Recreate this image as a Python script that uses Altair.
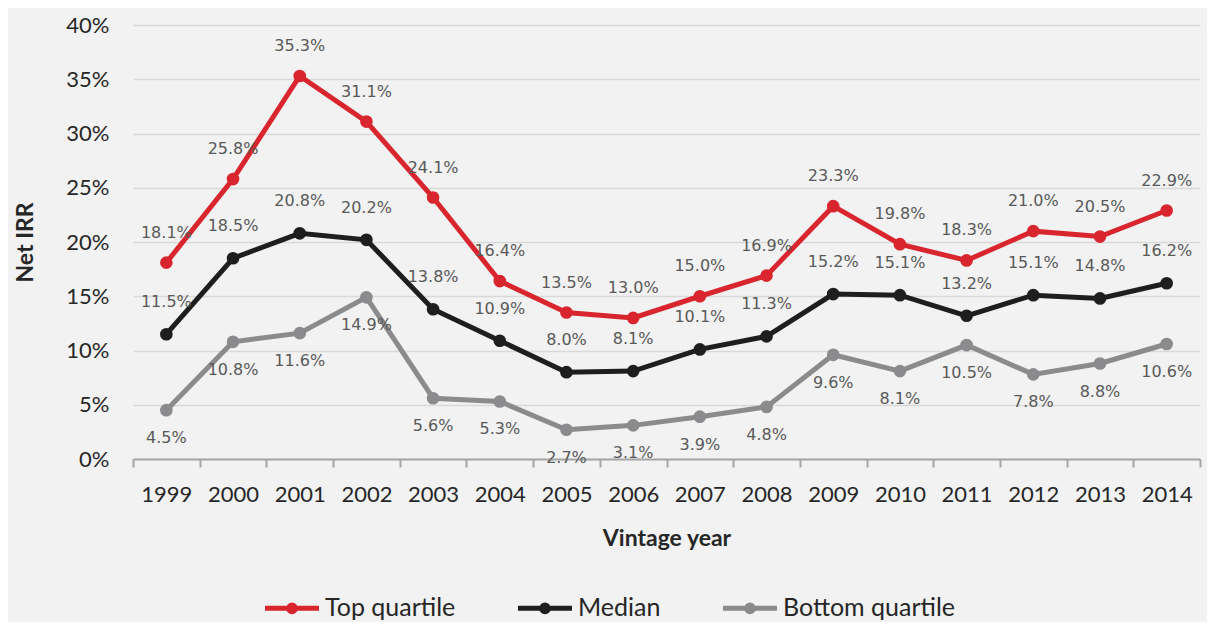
import altair as alt
import pandas as pd

years = [str(y) for y in range(1999, 2015)]
top_quartile = [18.1, 25.8, 35.3, 31.1, 24.1, 16.4, 13.5, 13.0, 15.0, 16.9, 23.3, 19.8, 18.3, 21.0, 20.5, 22.9]
median = [11.5, 18.5, 20.8, 20.2, 13.8, 10.9, 8.0, 8.1, 10.1, 11.3, 15.2, 15.1, 13.2, 15.1, 14.8, 16.2]
bottom_quartile = [4.5, 10.8, 11.6, 14.9, 5.6, 5.3, 2.7, 3.1, 3.9, 4.8, 9.6, 8.1, 10.5, 7.8, 8.8, 10.6]
series_names = ["Top quartile", "Median", "Bottom quartile"]
series_colors = ["#d9262e", "#1e1e1e", "#8b8b8e"]
y_ticks = [0, 0.05, 0.10, 0.15, 0.20, 0.25, 0.30, 0.35, 0.40]

rows = []
for name, vals in zip(series_names, [top_quartile, median, bottom_quartile]):
    for yr, v in zip(years, vals):
        rows.append({"year": yr, "series": name, "value": v / 100})
df = pd.DataFrame(rows)

AX_FONT = "Lato"
LBL_FONT = "DejaVu Sans"

x_enc = alt.X(
    "year:O",
    title="Vintage year",
    bandPosition=0.5,
    scale=alt.Scale(type="band", paddingInner=0, paddingOuter=0),
    axis=alt.Axis(
        tickBand="extent", labelAngle=0, grid=False,
        domainColor="#a6a6a6", domainWidth=2, tickColor="#a6a6a6", tickWidth=2,
        tickSize=8, labelPadding=17, labelFontSize=22, labelFont=AX_FONT,
        labelColor="#262626", titleFont=AX_FONT, titleFontSize=23,
        titleFontWeight="bold", titleColor="#262626", titlePadding=22,
    ),
)
y_enc = alt.Y(
    "value:Q",
    title="Net IRR",
    scale=alt.Scale(domain=[0, 0.4], nice=False),
    axis=alt.Axis(
        values=y_ticks, format=".0%", domain=False, ticks=False,
        gridColor="#d9d9d9", gridWidth=1.5, labelPadding=24,
        labelFontSize=22, labelFont=AX_FONT, labelColor="#262626",
        titleFont=AX_FONT, titleFontSize=23, titleFontWeight="bold",
        titleColor="#262626", titlePadding=28,
    ),
)
color_enc = alt.Color(
    "series:N",
    scale=alt.Scale(domain=series_names, range=series_colors),
    sort=series_names,
    legend=alt.Legend(
        title=None, orient="none", direction="horizontal",
        legendX=143, legendY=567, padding=0,
        symbolType="M-2,0H2M-0.25,0A0.25,0.25,0,1,1,0.25,0A0.25,0.25,0,1,1,-0.25,0",
        symbolSize=729, symbolStrokeWidth=5, symbolFillColor="transparent",
        labelFont=AX_FONT, labelFontSize=25, labelColor="#262626",
        labelLimit=400, columnPadding=52, labelOffset=17,
    ),
)

base = alt.Chart(df)
lines = base.mark_line(strokeWidth=5).encode(x=x_enc, y=y_enc, color=color_enc)
points = base.mark_circle(size=160, opacity=1).encode(
    x=x_enc, y=y_enc,
    color=alt.Color("series:N", scale=alt.Scale(domain=series_names, range=series_colors), legend=None),
)

label_layers = []
for name, dy in zip(series_names, [-30, -32, 28]):
    label_layers.append(
        base.transform_filter(alt.datum.series == name)
        .mark_text(font=LBL_FONT, fontSize=16, color="#595959", dy=dy)
        .encode(x=x_enc, y=y_enc, text=alt.Text("value:Q", format=".1%"))
    )

chart = (
    alt.layer(lines, points, *label_layers)
    .properties(
        width=1067, height=434,
        autosize=alt.AutoSizeParams(type="none"),
        padding={"left": 125, "top": 17, "right": 7, "bottom": 163},
    )
    .configure(background="#f2f2f2")
    .configure_view(stroke=None)
)

chart.save("out.html", embed_options={"renderer": "svg", "actions": False})
